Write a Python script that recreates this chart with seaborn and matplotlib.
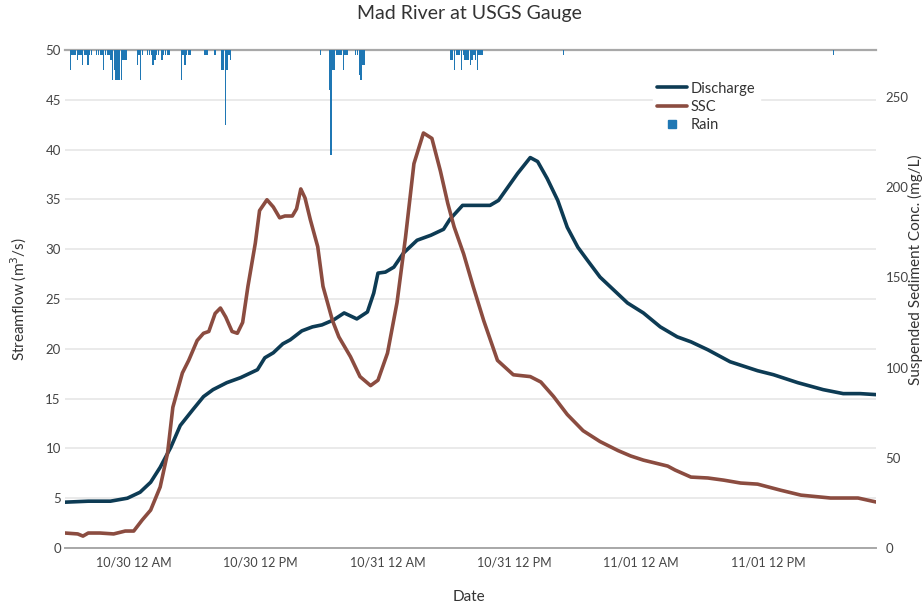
import numpy as np
import pandas as pd
import matplotlib
matplotlib.use("Agg")
import matplotlib.pyplot as plt
import matplotlib.dates as mdates
from matplotlib.lines import Line2D
import seaborn as sns

# ---------------- data (hours relative to 10/30 00:00) ----------------
BASE = pd.Timestamp("2015-10-30 00:00")

discharge_hours = [-6.5, -4.3, -2.2, -0.6, 0.6, 1.6, 2.5, 3.5, 4.4, 5.6, 6.6, 7.5, 8.8,
                   10.1, 11.3, 11.7, 12.4, 13.2, 14.1, 14.8, 15.9, 16.9, 17.8, 18.9,
                   19.9, 21.1, 22.1, 22.7, 23.1, 23.8, 24.6, 25.5, 26.8, 28.1, 29.3,
                   29.9, 31.1, 33.7, 34.5, 35.3, 36.3, 37.5, 38.2, 39.1, 40.1, 41.0,
                   42.0, 42.9, 44.1, 45.4, 46.7, 48.2, 49.8, 51.4, 52.7, 54.3, 56.4,
                   59.0, 60.5, 62.8, 65.2, 67.1, 68.7, 70.2]
discharge_cms = [4.6, 4.7, 4.7, 5.0, 5.6, 6.6, 8.1, 10.1, 12.3, 13.9, 15.2, 15.9, 16.6,
                 17.1, 17.7, 17.9, 19.1, 19.6, 20.5, 20.9, 21.8, 22.2, 22.4, 22.9,
                 23.6, 23.0, 23.7, 25.6, 27.6, 27.7, 28.2, 29.6, 30.9, 31.4, 32.0,
                 33.0, 34.4, 34.4, 34.9, 36.1, 37.6, 39.2, 38.8, 37.1, 34.9, 32.2,
                 30.2, 28.9, 27.2, 25.9, 24.6, 23.6, 22.2, 21.2, 20.7, 19.9, 18.7,
                 17.8, 17.4, 16.6, 15.9, 15.5, 15.5, 15.4]

ssc_hours = [-6.5, -5.3, -4.8, -4.3, -3.2, -1.9, -0.8, 0.0, 0.8, 1.6, 2.5, 3.2, 3.7,
             4.6, 5.2, 6.0, 6.6, 7.1, 7.7, 8.2, 8.7, 9.3, 9.8, 10.3, 10.8, 11.5,
             11.9, 12.6, 13.2, 13.8, 14.3, 15.0, 15.4, 15.8, 16.2, 16.7, 17.4,
             17.9, 18.8, 19.4, 20.5, 21.4, 22.4, 23.1, 24.0, 24.9, 25.7, 26.5,
             27.4, 28.2, 29.0, 29.7, 30.3, 31.2, 32.1, 33.1, 34.4, 35.9, 37.5,
             38.5, 39.7, 41.0, 42.5, 44.1, 45.8, 47.0, 48.2, 50.5, 51.2, 52.7,
             54.3, 55.8, 57.4, 59.0, 61.2, 63.1, 65.9, 68.5, 70.2]
ssc_mgl = [8.3, 7.8, 6.6, 8.3, 8.3, 7.8, 9.4, 9.4, 15.5, 21, 33.8, 52.6, 78,
           97, 104, 115, 119, 120, 130, 133, 128, 120, 119, 125, 145, 169,
           187, 193, 189, 183, 184, 184, 188, 199, 194, 182, 167,
           145, 126, 117, 106, 95, 90, 93, 108, 136, 172, 213,
           230, 227, 209, 191, 178, 163, 145, 126, 104, 96, 95,
           92, 84, 74, 65, 59, 54, 51, 48.7, 45.4, 43.2, 39.3,
           38.8, 37.6, 36, 35.4, 32, 29.3, 27.7, 27.7, 25.5]

# rain: 10-minute bucket tips (0.01 in each), grouped by start hour
rain_group_start = [-6.0, -3.5, 0.33, 1.33, 2.67, 4.5, 6.67, 7.67, 8.33, 17.67,
                    18.5, 21.0, 30.0, 40.67, 66.17]
rain_group_tips = [
    [4, 1, 1, 1, 2, 1, 1, 3, 1, 1, 3, 1, 1],
    [1, 1, 1, 1, 4, 1, 1, 1, 2, 6, 4, 6, 6, 6, 6, 2, 2, 2],
    [3, 1, 6, 1],
    [1, 1, 1, 3, 2, 1, 1],
    [2, 1, 1, 1, 1],
    [6, 1, 3, 1, 1, 1],
    [1, 1, 1],
    [1],
    [4, 4, 15, 4, 1, 2],
    [1],
    [8, 21, 4, 4, 1, 1, 1, 1, 4, 1, 1],
    [1, 1, 5, 6, 3, 3],
    [2, 2, 4, 1, 1, 1, 4, 1, 2, 2, 2, 3, 2, 1, 2, 4, 1, 1, 1],
    [1],
    [1],
]

# ---------------- build frames ----------------
df_q = pd.DataFrame({"time": BASE + pd.to_timedelta(discharge_hours, unit="h"),
                     "Discharge": discharge_cms})
df_s = pd.DataFrame({"time": BASE + pd.to_timedelta(ssc_hours, unit="h"),
                     "SSC": ssc_mgl})
rt, rv = [], []
for st, tips in zip(rain_group_start, rain_group_tips):
    for i, n in enumerate(tips):
        rt.append(BASE + pd.Timedelta(hours=st + i / 6.0))
        rv.append(n * 0.01)
df_r = pd.DataFrame({"time": rt, "Rain": rv})

# ---------------- style ----------------
sns.set_theme(style="white")
plt.rcParams["font.family"] = ["Lato", "DejaVu Sans"]
TXT = "#444444"
C_Q = "#0d3b54"
C_S = "#8b4c40"
C_R = "#1f77b4"

fig = plt.figure(figsize=(9.24, 6.08), dpi=100)
ax = fig.add_axes([65 / 924, 1 - 548 / 608, 811 / 924, 498 / 608])
ax2 = ax.twinx()
ax3 = ax.twinx()

# rain bars (inverted axis hanging from top)
ax3.bar(df_r["time"], df_r["Rain"], width=pd.Timedelta(minutes=8), color=C_R,
        linewidth=0, zorder=1)
ax3.set_ylim(1.0, 0)
ax3.set_yticks([])
ax3.set_ylabel("")
for s in ax3.spines.values():
    s.set_visible(False)

sns.lineplot(data=df_q, x="time", y="Discharge", ax=ax, color=C_Q, lw=2.6, zorder=3)
sns.lineplot(data=df_s, x="time", y="SSC", ax=ax2, color=C_S, lw=2.6, zorder=3)
for a in (ax, ax2):
    for ln in a.get_lines():
        ln.set_solid_joinstyle("round")
        ln.set_solid_capstyle("round")

xmin, xmax = df_q["time"].min(), df_q["time"].max()
for a in (ax, ax2, ax3):
    a.set_xlim(xmin, xmax)

ax.set_ylim(0, 50)
ax.set_yticks(np.arange(0, 51, 5))
ax2.set_ylim(0, 276)
ax2.set_yticks(np.arange(0, 251, 50))

ax.grid(axis="y", color="#e6e6e6", lw=1.2)
ax.grid(axis="x", visible=False)
ax2.grid(False)
ax3.grid(False)
ax.set_axisbelow(True)

for a in (ax, ax2):
    for s in ("left", "right", "top", "bottom"):
        a.spines[s].set_visible(False)
ax.spines["bottom"].set_visible(True)
ax.spines["bottom"].set_color("#a8a8a8")
ax.spines["bottom"].set_linewidth(1.4)
ax.spines["top"].set_visible(True)
ax.spines["top"].set_color("#a8a8a8")
ax.spines["top"].set_linewidth(1.6)

ax.xaxis.set_major_locator(mdates.HourLocator(byhour=[0, 12]))
ax.xaxis.set_major_formatter(mdates.DateFormatter("%m/%d %I %p"))
ax.tick_params(axis="x", direction="in", length=8, width=1, color="#a8a8a8",
               labelsize=9, labelcolor=TXT, pad=6)
ax.tick_params(axis="y", length=0, labelsize=9.5, labelcolor=TXT, pad=3)
ax2.tick_params(axis="y", length=0, labelsize=9.5, labelcolor=TXT, pad=7)

ax.set_xlabel("")
ax.set_ylabel("Streamflow (m$^3$/s)", fontsize=11, color="#333333", labelpad=12)
ax2.set_ylabel("")
ax2.set_xlabel("")

fig.text(915 / 924, 1 - 270 / 608, "Suspended Sediment Conc. (mg/L)", rotation=90,
         ha="center", va="center", fontsize=11, color="#333333")
fig.text(0.508, 1 - 14 / 608, "Mad River at USGS Gauge", ha="center", va="center",
         fontsize=14, color="#333333")
fig.text(0.508, 1 - 597 / 608, "Date", ha="center", va="center", fontsize=11,
         color="#333333")

handles = [Line2D([0], [0], color=C_Q, lw=2.6),
           Line2D([0], [0], color=C_S, lw=2.6),
           Line2D([0], [0], color=C_R, lw=0, marker="s", markersize=6)]
leg = ax3.legend(handles, ["Discharge", "SSC", "Rain"], loc="upper left",
                 bbox_to_anchor=(0.716, 0.96), frameon=True, fontsize=10.5,
                 handlelength=2.0, handletextpad=0.3, labelspacing=0.3,
                 borderpad=0.3, labelcolor="#333333")
leg.get_frame().set_facecolor("white")
leg.get_frame().set_edgecolor("white")
leg.get_frame().set_alpha(1.0)
leg.set_zorder(10)

fig.savefig("out.png", dpi=100)
